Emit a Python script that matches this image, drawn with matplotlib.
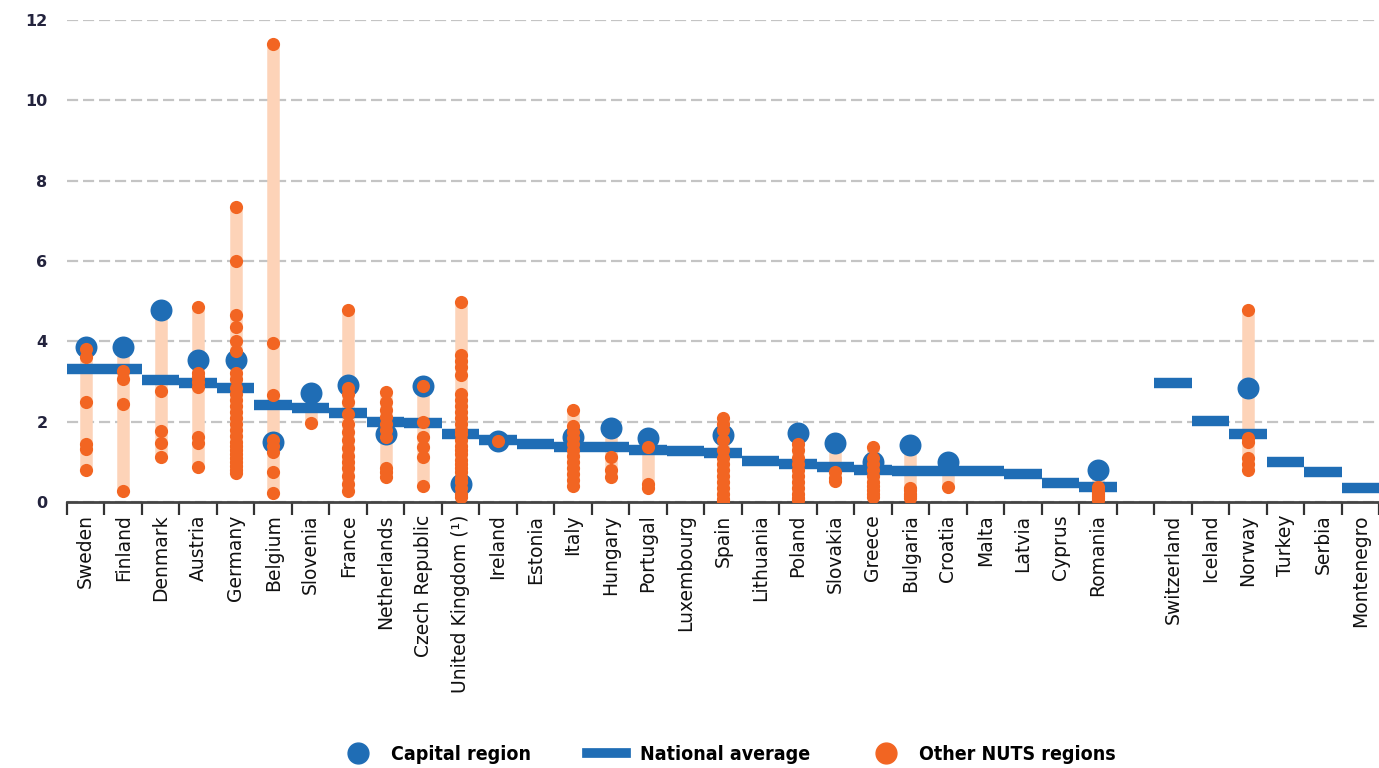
import matplotlib
matplotlib.use("Agg")
import matplotlib.pyplot as plt
from matplotlib.lines import Line2D
import numpy as np

# countries in plotted order (a blank slot separates EU and non-EU)
countries = ["Sweden", "Finland", "Denmark", "Austria", "Germany", "Belgium",
             "Slovenia", "France", "Netherlands", "Czech Republic",
             "United Kingdom (\u00b9)", "Ireland", "Estonia", "Italy", "Hungary",
             "Portugal", "Luxembourg", "Spain", "Lithuania", "Poland",
             "Slovakia", "Greece", "Bulgaria", "Croatia", "Malta", "Latvia",
             "Cyprus", "Romania",
             "Switzerland", "Iceland", "Norway", "Turkey", "Serbia", "Montenegro"]

national_avg = [3.3, 3.3, 3.03, 2.96, 2.83, 2.41, 2.35, 2.22, 1.99, 1.97,
                1.69, 1.54, 1.44, 1.37, 1.37, 1.29, 1.27, 1.22, 1.02, 0.95,
                0.87, 0.80, 0.76, 0.77, 0.77, 0.70, 0.47, 0.37,
                2.96, 2.01, 1.69, 1.0, 0.75, 0.35]

nan = np.nan
capital = [3.86, 3.86, 4.78, 3.53, 3.53, 1.49, 2.71, 2.91, 1.69, 2.89,
           0.45, 1.52, nan, 1.62, 1.84, 1.59, nan, 1.67, nan, 1.71,
           1.46, 1.0, 1.41, 0.99, nan, nan, nan, 0.8,
           nan, nan, 2.85, nan, nan, nan]

others = [
    [3.8, 3.6, 2.5, 1.45, 1.32, 0.8],                                  # Sweden
    [3.25, 3.05, 2.45, 0.28],                                          # Finland
    [2.77, 1.78, 1.47, 1.13],                                          # Denmark
    [4.86, 3.2, 3.1, 3.0, 2.87, 1.62, 1.47, 0.88],                     # Austria
    [7.35, 6.0, 4.65, 4.35, 4.0, 3.75, 3.2, 3.05, 2.85, 2.7, 2.55, 2.4,
     2.25, 2.1, 1.95, 1.8, 1.65, 1.5, 1.4, 1.3, 1.2, 1.1, 1.0, 0.9,
     0.8, 0.72],                                                       # Germany
    [11.4, 3.95, 2.66, 1.55, 1.4, 1.25, 0.75, 0.22],                   # Belgium
    [1.96],                                                            # Slovenia
    [4.78, 2.85, 2.7, 2.5, 2.2, 1.95, 1.75, 1.55, 1.35, 1.15, 1.0,
     0.85, 0.65, 0.45, 0.28],                                          # France
    [2.74, 2.5, 2.3, 2.12, 1.95, 1.8, 1.62, 0.85, 0.75, 0.63],         # Netherlands
    [2.88, 2.0, 1.62, 1.38, 1.13, 0.4],                                # Czech Republic
    [4.98, 3.65, 3.5, 3.35, 3.15, 2.7, 2.55, 2.4, 2.25, 2.1, 1.95, 1.8,
     1.7, 1.55, 1.4, 1.3, 1.2, 1.05, 0.95, 0.85, 0.75, 0.6, 0.5, 0.35,
     0.2, 0.12],                                                       # United Kingdom
    [1.52],                                                            # Ireland
    [],                                                                # Estonia
    [2.28, 1.9, 1.75, 1.6, 1.45, 1.3, 1.15, 1.0, 0.85, 0.7, 0.55, 0.4],# Italy
    [1.13, 0.8, 0.63],                                                 # Hungary
    [1.36, 0.45, 0.35],                                                # Portugal
    [],                                                                # Luxembourg
    [2.1, 1.95, 1.8, 1.55, 1.3, 1.1, 0.95, 0.8, 0.65, 0.5, 0.35, 0.2,
     0.08, 0.02],                                                      # Spain
    [],                                                                # Lithuania
    [1.45, 1.3, 1.1, 0.95, 0.8, 0.65, 0.5, 0.35, 0.2, 0.1, 0.05],      # Poland
    [0.75, 0.6, 0.52],                                                 # Slovakia
    [1.38, 1.1, 0.95, 0.8, 0.65, 0.5, 0.4, 0.3, 0.2, 0.13],            # Greece
    [0.35, 0.3, 0.2, 0.15, 0.1],                                       # Bulgaria
    [0.37],                                                            # Croatia
    [], [], [],                                                        # Malta, Latvia, Cyprus
    [0.37, 0.3, 0.25, 0.2, 0.15, 0.1, 0.05],                           # Romania
    [], [],                                                            # Switzerland, Iceland
    [4.78, 1.6, 1.5, 1.1, 0.95, 0.8],                                  # Norway
    [], [], [],                                                        # Turkey, Serbia, Montenegro
]

BLUE = "#1f6db5"
ORANGE = "#f26522"
PEACH = "#fdd3b8"

pos = list(range(28)) + list(range(29, 35))

fig = plt.figure(figsize=(13.79, 7.68), dpi=100)
ax = fig.add_axes([67 / 1379, 266 / 768, 1 - 67 / 1379, (502 - 20) / 768])

for x, cap, oth in zip(pos, capital, others):
    vals = list(oth) + ([] if np.isnan(cap) else [cap])
    if len(oth) > 0 and len(vals) > 1:
        ax.plot([x, x], [min(vals), max(vals)], color=PEACH, lw=9,
                solid_capstyle="butt", zorder=2)

for x, v in zip(pos, national_avg):
    ax.plot([x - 0.5, x + 0.5], [v, v], color=BLUE, lw=7.5,
            solid_capstyle="butt", zorder=3)

ax.scatter(pos, capital, s=250, color=BLUE, zorder=4, linewidths=0)
for x, oth in zip(pos, others):
    ax.scatter([x] * len(oth), oth, s=90, color=ORANGE, zorder=5, linewidths=0)

ax.set_xlim(-0.5, 34.1)
ax.set_ylim(0, 12)
ax.set_yticks(range(0, 13, 2))
ax.tick_params(axis="y", length=0, pad=14, labelsize=11.5, labelcolor="#23233d")
for lab in ax.get_yticklabels():
    lab.set_fontweight("bold")

ax.set_xticks(pos)
ax.set_xticklabels(countries, rotation=90, fontsize=13.5, color="#111111")
ax.set_xticks(np.arange(-0.5, 35, 1), minor=True)
ax.tick_params(axis="x", which="major", length=0, pad=9)
ax.tick_params(axis="x", which="minor", length=9, width=1.6, color="#333333")

ax.yaxis.grid(True, color="#c4c4c4", lw=1.6, ls=(0, (5, 2.2)))
ax.set_axisbelow(True)
for s in ["left", "right", "top"]:
    ax.spines[s].set_visible(False)
ax.spines["bottom"].set_color("#444444")
ax.spines["bottom"].set_linewidth(2)

handles = [
    Line2D([], [], marker="o", ls="none", color=BLUE, markersize=15),
    Line2D([], [], color=BLUE, lw=7),
    Line2D([], [], marker="o", ls="none", color=ORANGE, markersize=15),
]
fig.legend(handles, ["Capital region", "National average", "Other NUTS regions"],
           loc="center", bbox_to_anchor=(0.527, 0.018), ncol=3, frameon=False,
           prop={"family": "DejaVu Sans", "weight": "bold", "size": 14,
                 "stretch": "condensed"},
           handlelength=2.0, columnspacing=2.9, handletextpad=0.7)

fig.savefig("out.png", dpi=100)
